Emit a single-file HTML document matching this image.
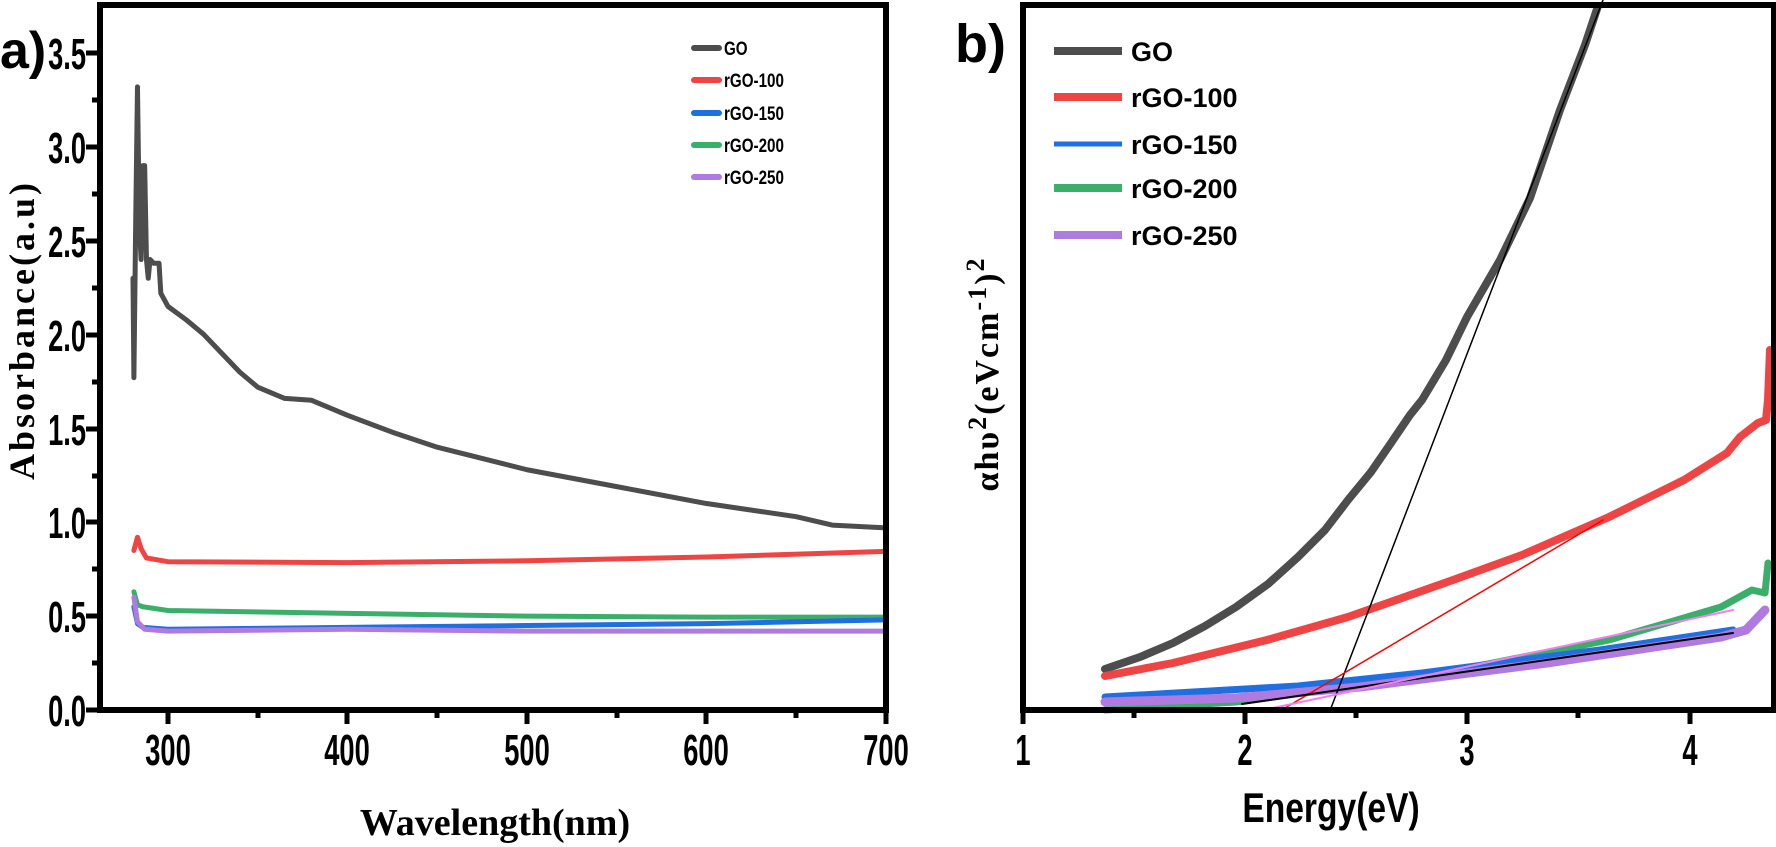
<!DOCTYPE html>
<html><head><meta charset="utf-8"><style>
html,body{margin:0;padding:0;background:#fff;}
svg{display:block;}
.tl{font-family:"Liberation Sans",sans-serif;font-weight:bold;font-size:44px;}
.ser{font-family:"Liberation Serif",serif;font-weight:bold;}
</style></head><body>
<svg width="1776" height="847" viewBox="0 0 1776 847" xmlns="http://www.w3.org/2000/svg">
<rect width="1776" height="847" fill="#fff"/>
<!-- Panel a -->
<text x="0" y="68" font-family="Liberation Sans" font-weight="bold" font-size="52">a)</text>
<g fill="none" stroke-linejoin="round" stroke-linecap="round">
<g transform="translate(168,710) scale(1.795,-187.7) translate(-300,0)">
<polyline vector-effect="non-scaling-stroke" stroke="#4d4d4d" stroke-width="5" points="280.5,2.3 281,1.77 282,2.6 283,3.32 284,2.6 285,2.4 286,2.9 287,2.9 288,2.4 289,2.3 290,2.4 292,2.38 295,2.38 296,2.22 300,2.15 310,2.08 320,2.0 330,1.9 340,1.8 350,1.72 365,1.66 380,1.65 400,1.57 425,1.48 450,1.40 475,1.34 500,1.28 550,1.19 600,1.10 650,1.03 670,0.985 700,0.97"/>
<polyline vector-effect="non-scaling-stroke" stroke="#ef4444" stroke-width="5" points="281,0.85 283,0.92 285,0.86 288,0.81 300,0.79 400,0.785 500,0.795 600,0.815 700,0.845"/>
<polyline vector-effect="non-scaling-stroke" stroke="#3aaf6a" stroke-width="5" points="281,0.63 283,0.56 286,0.55 300,0.53 400,0.515 500,0.50 600,0.495 700,0.495"/>
<polyline vector-effect="non-scaling-stroke" stroke="#1f6fe0" stroke-width="5" points="281,0.55 283,0.46 286,0.44 300,0.43 400,0.44 500,0.45 600,0.46 700,0.48"/>
<polyline vector-effect="non-scaling-stroke" stroke="#b07be0" stroke-width="5" points="281,0.6 283,0.47 287,0.43 300,0.42 400,0.43 500,0.42 600,0.42 700,0.42"/>
</g>
</g>
<rect x="100" y="5" width="786" height="705" fill="none" stroke="#000" stroke-width="6"/>
<g stroke="#000" stroke-width="5">
<line x1="168" y1="710" x2="168" y2="724"/><line x1="347" y1="710" x2="347" y2="724"/><line x1="527" y1="710" x2="527" y2="724"/><line x1="706" y1="710" x2="706" y2="724"/><line x1="886" y1="710" x2="886" y2="724"/>
<line x1="258" y1="710" x2="258" y2="718"/><line x1="437" y1="710" x2="437" y2="718"/><line x1="617" y1="710" x2="617" y2="718"/><line x1="796" y1="710" x2="796" y2="718"/>
<line x1="86" y1="710" x2="100" y2="710"/><line x1="86" y1="616" x2="100" y2="616"/><line x1="86" y1="522" x2="100" y2="522"/><line x1="86" y1="429" x2="100" y2="429"/><line x1="86" y1="335" x2="100" y2="335"/><line x1="86" y1="241" x2="100" y2="241"/><line x1="86" y1="147" x2="100" y2="147"/><line x1="86" y1="53" x2="100" y2="53"/>
<line x1="92" y1="663" x2="100" y2="663"/><line x1="92" y1="569" x2="100" y2="569"/><line x1="92" y1="476" x2="100" y2="476"/><line x1="92" y1="382" x2="100" y2="382"/><line x1="92" y1="288" x2="100" y2="288"/><line x1="92" y1="194" x2="100" y2="194"/><line x1="92" y1="100" x2="100" y2="100"/>
</g>
<g class="tl" text-anchor="end" transform="translate(86,0) scale(0.62,1) translate(-86,0)">
<text x="86" y="726">0.0</text>
<text x="86" y="632">0.5</text>
<text x="86" y="538">1.0</text>
<text x="86" y="445">1.5</text>
<text x="86" y="351">2.0</text>
<text x="86" y="257">2.5</text>
<text x="86" y="163">3.0</text>
<text x="86" y="69">3.5</text>
</g>
<g class="tl" text-anchor="middle">
<text x="168" y="765" transform="translate(168,0) scale(0.62,1) translate(-168,0)">300</text>
<text x="347" y="765" transform="translate(347,0) scale(0.62,1) translate(-347,0)">400</text>
<text x="527" y="765" transform="translate(527,0) scale(0.62,1) translate(-527,0)">500</text>
<text x="706" y="765" transform="translate(706,0) scale(0.62,1) translate(-706,0)">600</text>
<text x="886" y="765" transform="translate(886,0) scale(0.62,1) translate(-886,0)">700</text>
</g>
<text class="ser" x="495" y="835" text-anchor="middle" font-size="38">Wavelength(nm)</text>
<text class="ser" transform="translate(34,330) rotate(-90)" text-anchor="middle" font-size="36" letter-spacing="3">Absorbance(a.u)</text>
<g stroke-width="6" stroke-linecap="round">
<line x1="694" y1="48" x2="719" y2="48" stroke="#4d4d4d"/>
<line x1="694" y1="80" x2="719" y2="80" stroke="#ef4444"/>
<line x1="694" y1="113" x2="719" y2="113" stroke="#1f6fe0"/>
<line x1="694" y1="145" x2="719" y2="145" stroke="#3aaf6a"/>
<line x1="694" y1="177" x2="719" y2="177" stroke="#b07be0"/>
</g>
<g font-family="Liberation Sans" font-weight="bold" font-size="19" transform="translate(724,0) scale(0.8,1) translate(-724,0)">
<text x="724" y="55">GO</text><text x="724" y="87">rGO-100</text><text x="724" y="120">rGO-150</text><text x="724" y="152">rGO-200</text><text x="724" y="184">rGO-250</text>
</g>

<!-- Panel b -->
<text x="955" y="62" font-family="Liberation Sans" font-weight="bold" font-size="54">b)</text>
<g fill="none" stroke-linejoin="round" stroke-linecap="round">
<polyline stroke="#4d4d4d" stroke-width="8" points="1105,669 1140,657 1173,643 1205,626 1236,607 1268,584 1298,557 1325,530 1348,500 1371,472 1391,443 1410,415 1422,400 1446,360 1467,317 1500,260 1530,198 1560,110 1585,45 1598,6"/>
<polyline stroke="#ef4444" stroke-width="8" points="1105,676 1173,663 1267,640 1348,617 1453,580 1522,555 1609,517 1684,480 1727,453 1740,437 1758,423 1766,420 1768,400 1770,350"/>
<polyline stroke="#3aaf6a" stroke-width="7" points="1105,710 1236,702 1422,677 1609,640 1721,607 1752,590 1765,593 1768,563"/>
<polyline stroke="#1f6fe0" stroke-width="7" points="1105,697 1298,686 1422,673 1600,650 1733,630"/>
<polyline stroke="#b07be0" stroke-width="9" points="1105,702 1236,698 1360,687 1547,663 1721,637 1746,630 1765,610"/>
<line x1="1603" y1="0" x2="1331" y2="708" stroke="#000" stroke-width="1.5"/>
<line x1="1603" y1="520" x2="1285" y2="708" stroke="#f00" stroke-width="1.5"/>
<line x1="1733" y1="633" x2="1242" y2="704" stroke="#000" stroke-width="2"/>
<line x1="1733" y1="610" x2="1273" y2="708" stroke="#f080f0" stroke-width="2"/>
</g>
<rect x="1023" y="5" width="751" height="705" fill="none" stroke="#000" stroke-width="6"/>
<g stroke="#000" stroke-width="5">
<line x1="1023" y1="710" x2="1023" y2="724"/><line x1="1245" y1="710" x2="1245" y2="724"/><line x1="1467" y1="710" x2="1467" y2="724"/><line x1="1690" y1="710" x2="1690" y2="724"/>
<line x1="1134" y1="710" x2="1134" y2="718"/><line x1="1356" y1="710" x2="1356" y2="718"/><line x1="1578" y1="710" x2="1578" y2="718"/>
</g>
<g class="tl" text-anchor="middle">
<text x="1023" y="765" transform="translate(1023,0) scale(0.62,1) translate(-1023,0)">1</text>
<text x="1245" y="765" transform="translate(1245,0) scale(0.62,1) translate(-1245,0)">2</text>
<text x="1467" y="765" transform="translate(1467,0) scale(0.62,1) translate(-1467,0)">3</text>
<text x="1690" y="765" transform="translate(1690,0) scale(0.62,1) translate(-1690,0)">4</text>
</g>
<text x="1331" y="822" text-anchor="middle" font-family="Liberation Sans" font-weight="bold" font-size="42" transform="translate(1331,0) scale(0.8,1) translate(-1331,0)">Energy(eV)</text>
<text class="ser" transform="translate(998,374) rotate(-90)" text-anchor="middle" font-size="34" letter-spacing="2">αhυ<tspan font-size="26" dy="-12">2</tspan><tspan dy="12">(eVcm</tspan><tspan font-size="26" dy="-12">-1</tspan><tspan dy="12">)</tspan><tspan font-size="26" dy="-14">2</tspan></text>
<g stroke-width="8" stroke-linecap="butt">
<line x1="1054" y1="51" x2="1122" y2="51" stroke="#4d4d4d"/>
<line x1="1054" y1="97" x2="1122" y2="97" stroke="#ef4444"/>
<line x1="1054" y1="144" x2="1122" y2="144" stroke="#1f6fe0" stroke-width="5"/>
<line x1="1054" y1="188" x2="1122" y2="188" stroke="#3aaf6a"/>
<line x1="1054" y1="235" x2="1122" y2="235" stroke="#b07be0"/>
</g>
<g font-family="Liberation Sans" font-weight="bold" font-size="27">
<text x="1131" y="61">GO</text><text x="1131" y="107">rGO-100</text><text x="1131" y="154">rGO-150</text><text x="1131" y="198">rGO-200</text><text x="1131" y="245">rGO-250</text>
</g>
</svg>
</body></html>
